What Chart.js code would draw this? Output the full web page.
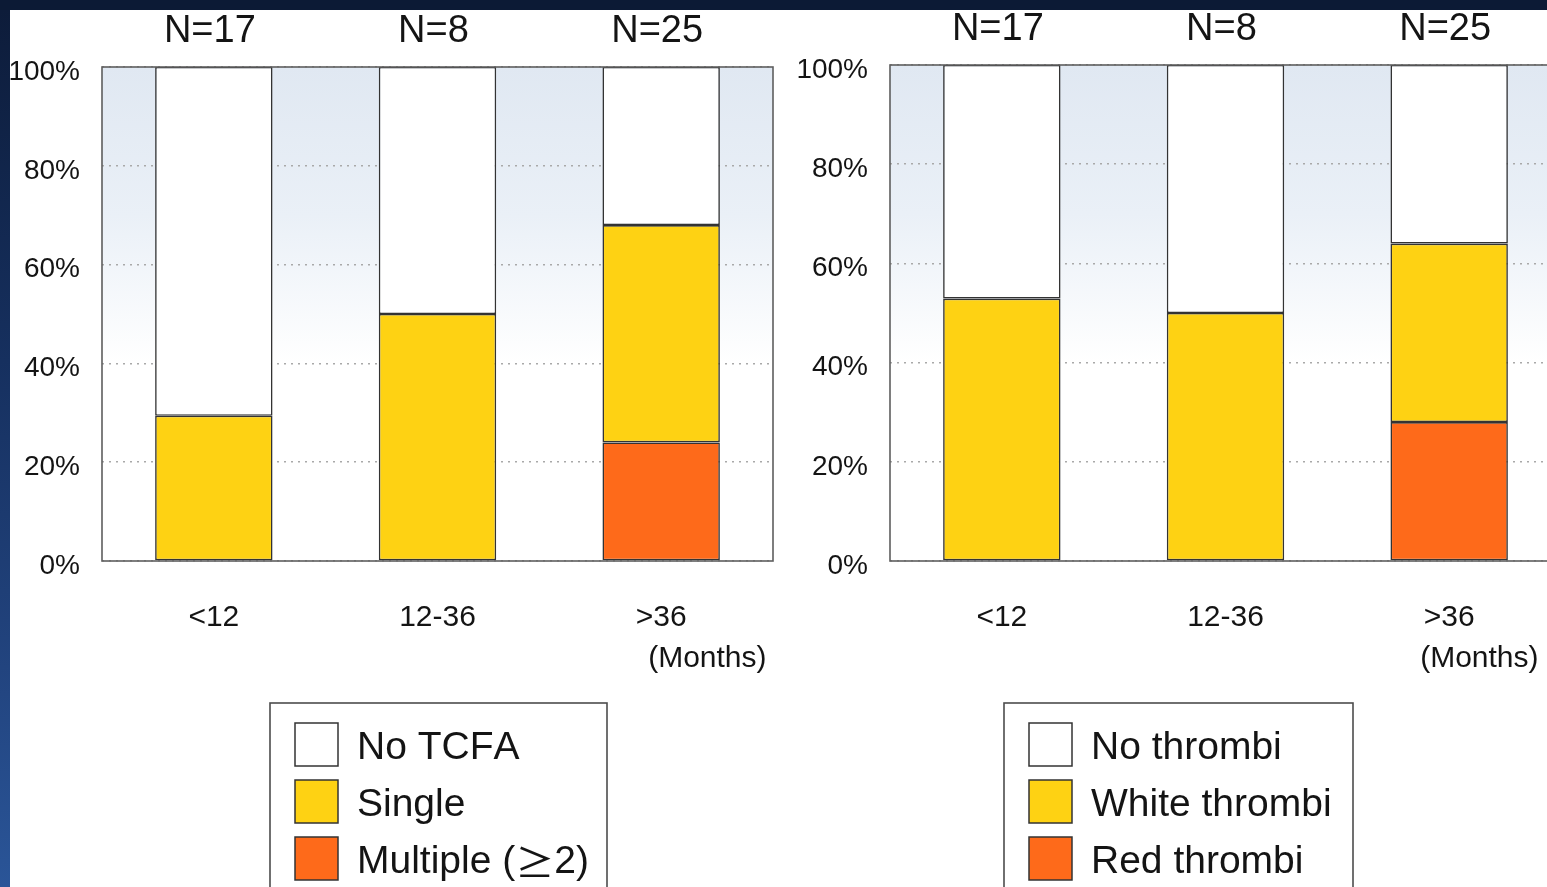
<!DOCTYPE html>
<html>
<head>
<meta charset="utf-8">
<title>TCFA and thrombi by months</title>
<script src="https://cdn.jsdelivr.net/npm/chart.js@4.4.1/dist/chart.umd.min.js"></script>
<style>
  html, body { margin: 0; padding: 0; width: 1547px; height: 887px; overflow: hidden; }
  body { background: #0c1a35; position: relative; }
  #edge { position: absolute; left: 0; top: 10px; width: 10px; height: 877px;
          background: linear-gradient(to bottom, #0d1c3a 0%, #16305f 40%, #22447f 75%, #2a5598 100%); }
  #panel { position: absolute; left: 10px; top: 10px; width: 1537px; height: 877px; background: #ffffff; }
  .box { position: absolute; top: 10px; height: 877px; }
  #box1 { left: 10px; width: 780px; }
  #box2 { left: 790px; width: 800px; }
</style>
</head>
<body>
<div id="edge"></div>
<div id="panel"></div>
<div class="box" id="box1"><canvas id="c1"></canvas></div>
<div class="box" id="box2"><canvas id="c2"></canvas></div>
<script>
// Follow-up groups and patient counts
const months = ['<12', '12-36', '>36'];
const nCounts = ['N=17', 'N=8', 'N=25'];
const yTicks = [0, 20, 40, 60, 80, 100];

// TCFA (%)
const tcfaNone = [70.6, 50, 32];
const tcfaSingle = [29.4, 50, 44];
const tcfaMultiple = [0, 0, 24];

// Thrombi (%)
const thrNone = [47.1, 50, 36];
const thrWhite = [52.9, 50, 36];
const thrRed = [0, 0, 28];

const YELLOW = '#fed213';
const ORANGE = '#fe6a1a';
const EDGE = '#333333';
const FONT = "'Liberation Sans', Arial, Helvetica, sans-serif";
const CJK = "'Noto Sans CJK JP', " + FONT;
const TEXT = '#141414';

Chart.defaults.font.family = FONT;
Chart.defaults.color = TEXT;

// Draws a label; math symbols use the full-width CJK glyph
function drawRuns(ctx, text, x, y, size) {
  let cx = x;
  for (const ch of text) {
    ctx.font = size + 'px ' + (ch === '\u2265' ? CJK : FONT);
    ctx.fillText(ch, cx, y);
    cx += ctx.measureText(ch).width;
  }
}

// Plot background, frame, N counts, unit note and boxed legend
const decor = {
  id: 'decor',
  beforeDraw(chart) {
    const { ctx, chartArea: a } = chart;
    const g = ctx.createLinearGradient(0, a.top, 0, a.bottom);
    g.addColorStop(0, '#e0e8f2');
    g.addColorStop(0.3, '#eaf0f7');
    g.addColorStop(0.6, '#ffffff');
    g.addColorStop(1, '#ffffff');
    ctx.save();
    ctx.fillStyle = g;
    ctx.fillRect(a.left, a.top, a.right - a.left, a.bottom - a.top);
    ctx.restore();
  },
  afterDatasetsDraw(chart, args, opts) {
    const { ctx, chartArea: a } = chart;
    const x = chart.scales.x;
    ctx.save();
    ctx.strokeStyle = '#5e5e5e';
    ctx.lineWidth = 1.6;
    ctx.strokeRect(a.left, a.top, a.right - a.left, a.bottom - a.top);

    // N above each bar
    ctx.fillStyle = TEXT;
    ctx.font = '38px ' + FONT;
    ctx.textAlign = 'center';
    ctx.textBaseline = 'middle';
    nCounts.forEach((t, i) => {
      ctx.fillText(t, x.getPixelForValue(i) - 4, a.top + opts.nOffset);
    });

    // unit under the last category
    ctx.font = '30px ' + FONT;
    ctx.textAlign = 'left';
    ctx.fillText('(Months)', x.getPixelForValue(months.length - 1) + opts.monthsDx, a.bottom + 98);

    // boxed legend, top entry first
    const L = opts.legend;
    ctx.strokeStyle = '#4d4d4d';
    ctx.lineWidth = 1.6;
    ctx.strokeRect(L.left, L.top, L.width, 260);
    const ds = chart.data.datasets.slice().reverse();
    ds.forEach((d, i) => {
      const sy = L.top + 20 + i * 57;
      const sx = L.left + 25;
      ctx.fillStyle = d.backgroundColor;
      ctx.fillRect(sx, sy, 43, 43);
      ctx.strokeStyle = EDGE;
      ctx.lineWidth = 1.5;
      ctx.strokeRect(sx, sy, 43, 43);
      ctx.fillStyle = TEXT;
      ctx.textAlign = 'left';
      ctx.textBaseline = 'middle';
      drawRuns(ctx, d.label, sx + 62, sy + 25, 39);
    });
    ctx.restore();
  }
};

function makeChart(id, sets, area, deco) {
  const ds = sets.map(s => ({
    label: s.label,
    data: s.data,
    backgroundColor: s.color,
    borderColor: EDGE,
    borderWidth: 1.6,
    borderSkipped: false,
    barPercentage: 0.525,
    categoryPercentage: 1
  }));
  return new Chart(document.getElementById(id), {
    type: 'bar',
    data: { labels: months, datasets: ds },
    plugins: [decor],
    options: {
      responsive: true,
      maintainAspectRatio: false,
      animation: false,
      events: [],
      layout: { padding: { top: area.top, right: area.right, left: 0, bottom: 0 } },
      plugins: {
        legend: { display: false },
        tooltip: { enabled: false },
        decor: deco
      },
      scales: {
        x: {
          stacked: true,
          grid: { display: false, drawTicks: false },
          border: { display: false },
          ticks: { font: { size: 30 }, color: TEXT, padding: 39 },
          afterFit(s) { s.height = area.xHeight; }
        },
        y: {
          stacked: true,
          min: 0,
          max: 100,
          afterBuildTicks(s) { s.ticks = yTicks.map(v => ({ value: v })); },
          grid: {
            drawTicks: false,
            color: '#a9a9a9',
            lineWidth: 1.5
          },
          border: { display: false, dash: [2, 5] },
          ticks: {
            font: { size: 28 },
            color: TEXT,
            padding: 22,
            labelOffset: 5,
            callback: v => v + '%'
          },
          afterFit(s) { s.width = area.left; }
        }
      }
    }
  });
}

makeChart('c1', [
  { label: 'Multiple (\u22652)', data: tcfaMultiple, color: ORANGE },
  { label: 'Single', data: tcfaSingle, color: YELLOW },
  { label: 'No TCFA', data: tcfaNone, color: '#ffffff' }
], { left: 92, right: 17, top: 57, xHeight: 326 },
   { nOffset: -35, monthsDx: -13, legend: { left: 260, top: 693, width: 337 } });

makeChart('c2', [
  { label: 'Red thrombi', data: thrRed, color: ORANGE },
  { label: 'White thrombi', data: thrWhite, color: YELLOW },
  { label: 'No thrombi', data: thrNone, color: '#ffffff' }
], { left: 100, right: 29, top: 55, xHeight: 326 },
   { nOffset: -35, monthsDx: -29, legend: { left: 214, top: 693, width: 349 } });
</script>
</body>
</html>
